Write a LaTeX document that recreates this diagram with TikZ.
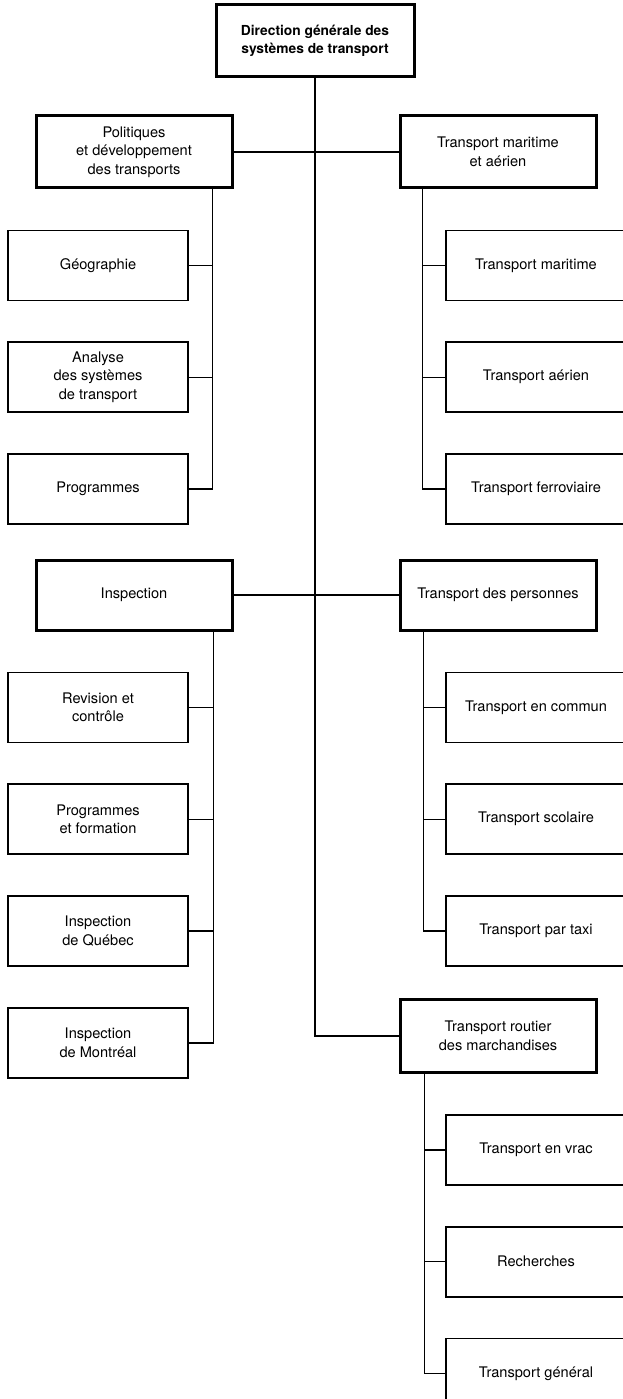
\documentclass[tikz,border=0pt]{standalone}
\usepackage{fontspec}
\setmainfont{TeX Gyre Heros}
\usetikzlibrary{positioning}

\begin{document}
\begin{tikzpicture}[
        x=1pt, y=1pt,
        node distance=40pt,
        font=\fontsize{14.6}{18.7}\selectfont,
        head/.style={draw, line width=3pt, minimum width=196pt, minimum height=72pt, align=center, inner sep=2pt},
        unit/.style={draw, line width=1.8pt, minimum width=180pt, minimum height=70pt, align=center, inner sep=2pt},
        link/.style={line width=1.4pt}
    ]
      \path[use as bounding box, clip] (0,0) rectangle (623,-1399);

      \node[head, minimum width=198pt, font=\bfseries\fontsize{13.8}{18.3}\selectfont] (dg) at (315,-41) {Direction générale des\\systèmes de transport};

      % first row
      \node[head] (pol) at (134,-152) {Politiques\\et développement\\des transports};
      \node[head] (mar) at (498,-152) {Transport maritime\\et aérien};

      \node[unit, below=40pt of pol, xshift=-36pt] (geo) {Géographie};
      \node[unit, below=of geo] (ana) {Analyse\\des systèmes\\de transport};
      \node[unit, below=of ana] (prg) {Programmes};

      \node[unit, below=40pt of mar, xshift=38pt] (tma) {Transport maritime};
      \node[unit, below=of tma] (tae) {Transport aérien};
      \node[unit, below=of tae] (tfe) {Transport ferroviaire};

      % second row
      \node[head, minimum height=70pt] (ins) at (134,-595) {Inspection};
      \node[head, minimum height=70pt] (per) at (498,-595) {Transport des personnes};

      \node[unit, below=40pt of ins, xshift=-36pt] (rev) {Revision et\\contrôle};
      \node[unit, below=of rev] (pfo) {Programmes\\et formation};
      \node[unit, below=of pfo] (iqc) {Inspection\\de Québec};
      \node[unit, below=of iqc] (imt) {Inspection\\de Montréal};

      \node[unit, below=40pt of per, xshift=38pt] (tco) {Transport en commun};
      \node[unit, below=of tco] (tsc) {Transport scolaire};
      \node[unit, below=of tsc] (ttx) {Transport par taxi};

      % third row
      \node[head, minimum height=73pt] (rou) at (498,-1036) {Transport routier\\des marchandises};

      \node[unit, below=40pt of rou, xshift=38pt] (vrc) {Transport en vrac};
      \node[unit, below=of vrc] (rch) {Recherches};
      \node[unit, below=of rch] (tge) {Transport général};

      % connectors
      \draw[link] (dg.south) |- (rou.west);
      \draw[link] (pol.east) -- (mar.west);
      \draw[link] (ins.east) -- (per.west);

      \coordinate (pp) at ([xshift=-21pt]pol.south east);
      \draw[link] (pp) |- (prg.east);
      \foreach \n in {geo,ana}
        \draw[link] (\n.east) -- (\n.east -| pp);

      \coordinate (mp) at ([xshift=24pt]mar.south west);
      \draw[link] (mp) |- (tfe.west);
      \foreach \n in {tma,tae}
        \draw[link] (\n.west) -- (\n.west -| mp);

      \coordinate (ip) at ([xshift=-20pt]ins.south east);
      \draw[link] (ip) |- (imt.east);
      \foreach \n in {rev,pfo,iqc}
        \draw[link] (\n.east) -- (\n.east -| ip);

      \coordinate (ep) at ([xshift=25pt]per.south west);
      \draw[link] (ep) |- (ttx.west);
      \foreach \n in {tco,tsc}
        \draw[link] (\n.west) -- (\n.west -| ep);

      \coordinate (rp) at ([xshift=26pt]rou.south west);
      \draw[link] (rp) |- (tge.west);
      \foreach \n in {vrc,rch}
        \draw[link] (\n.west) -- (\n.west -| rp);
    \end{tikzpicture}
\end{document}
